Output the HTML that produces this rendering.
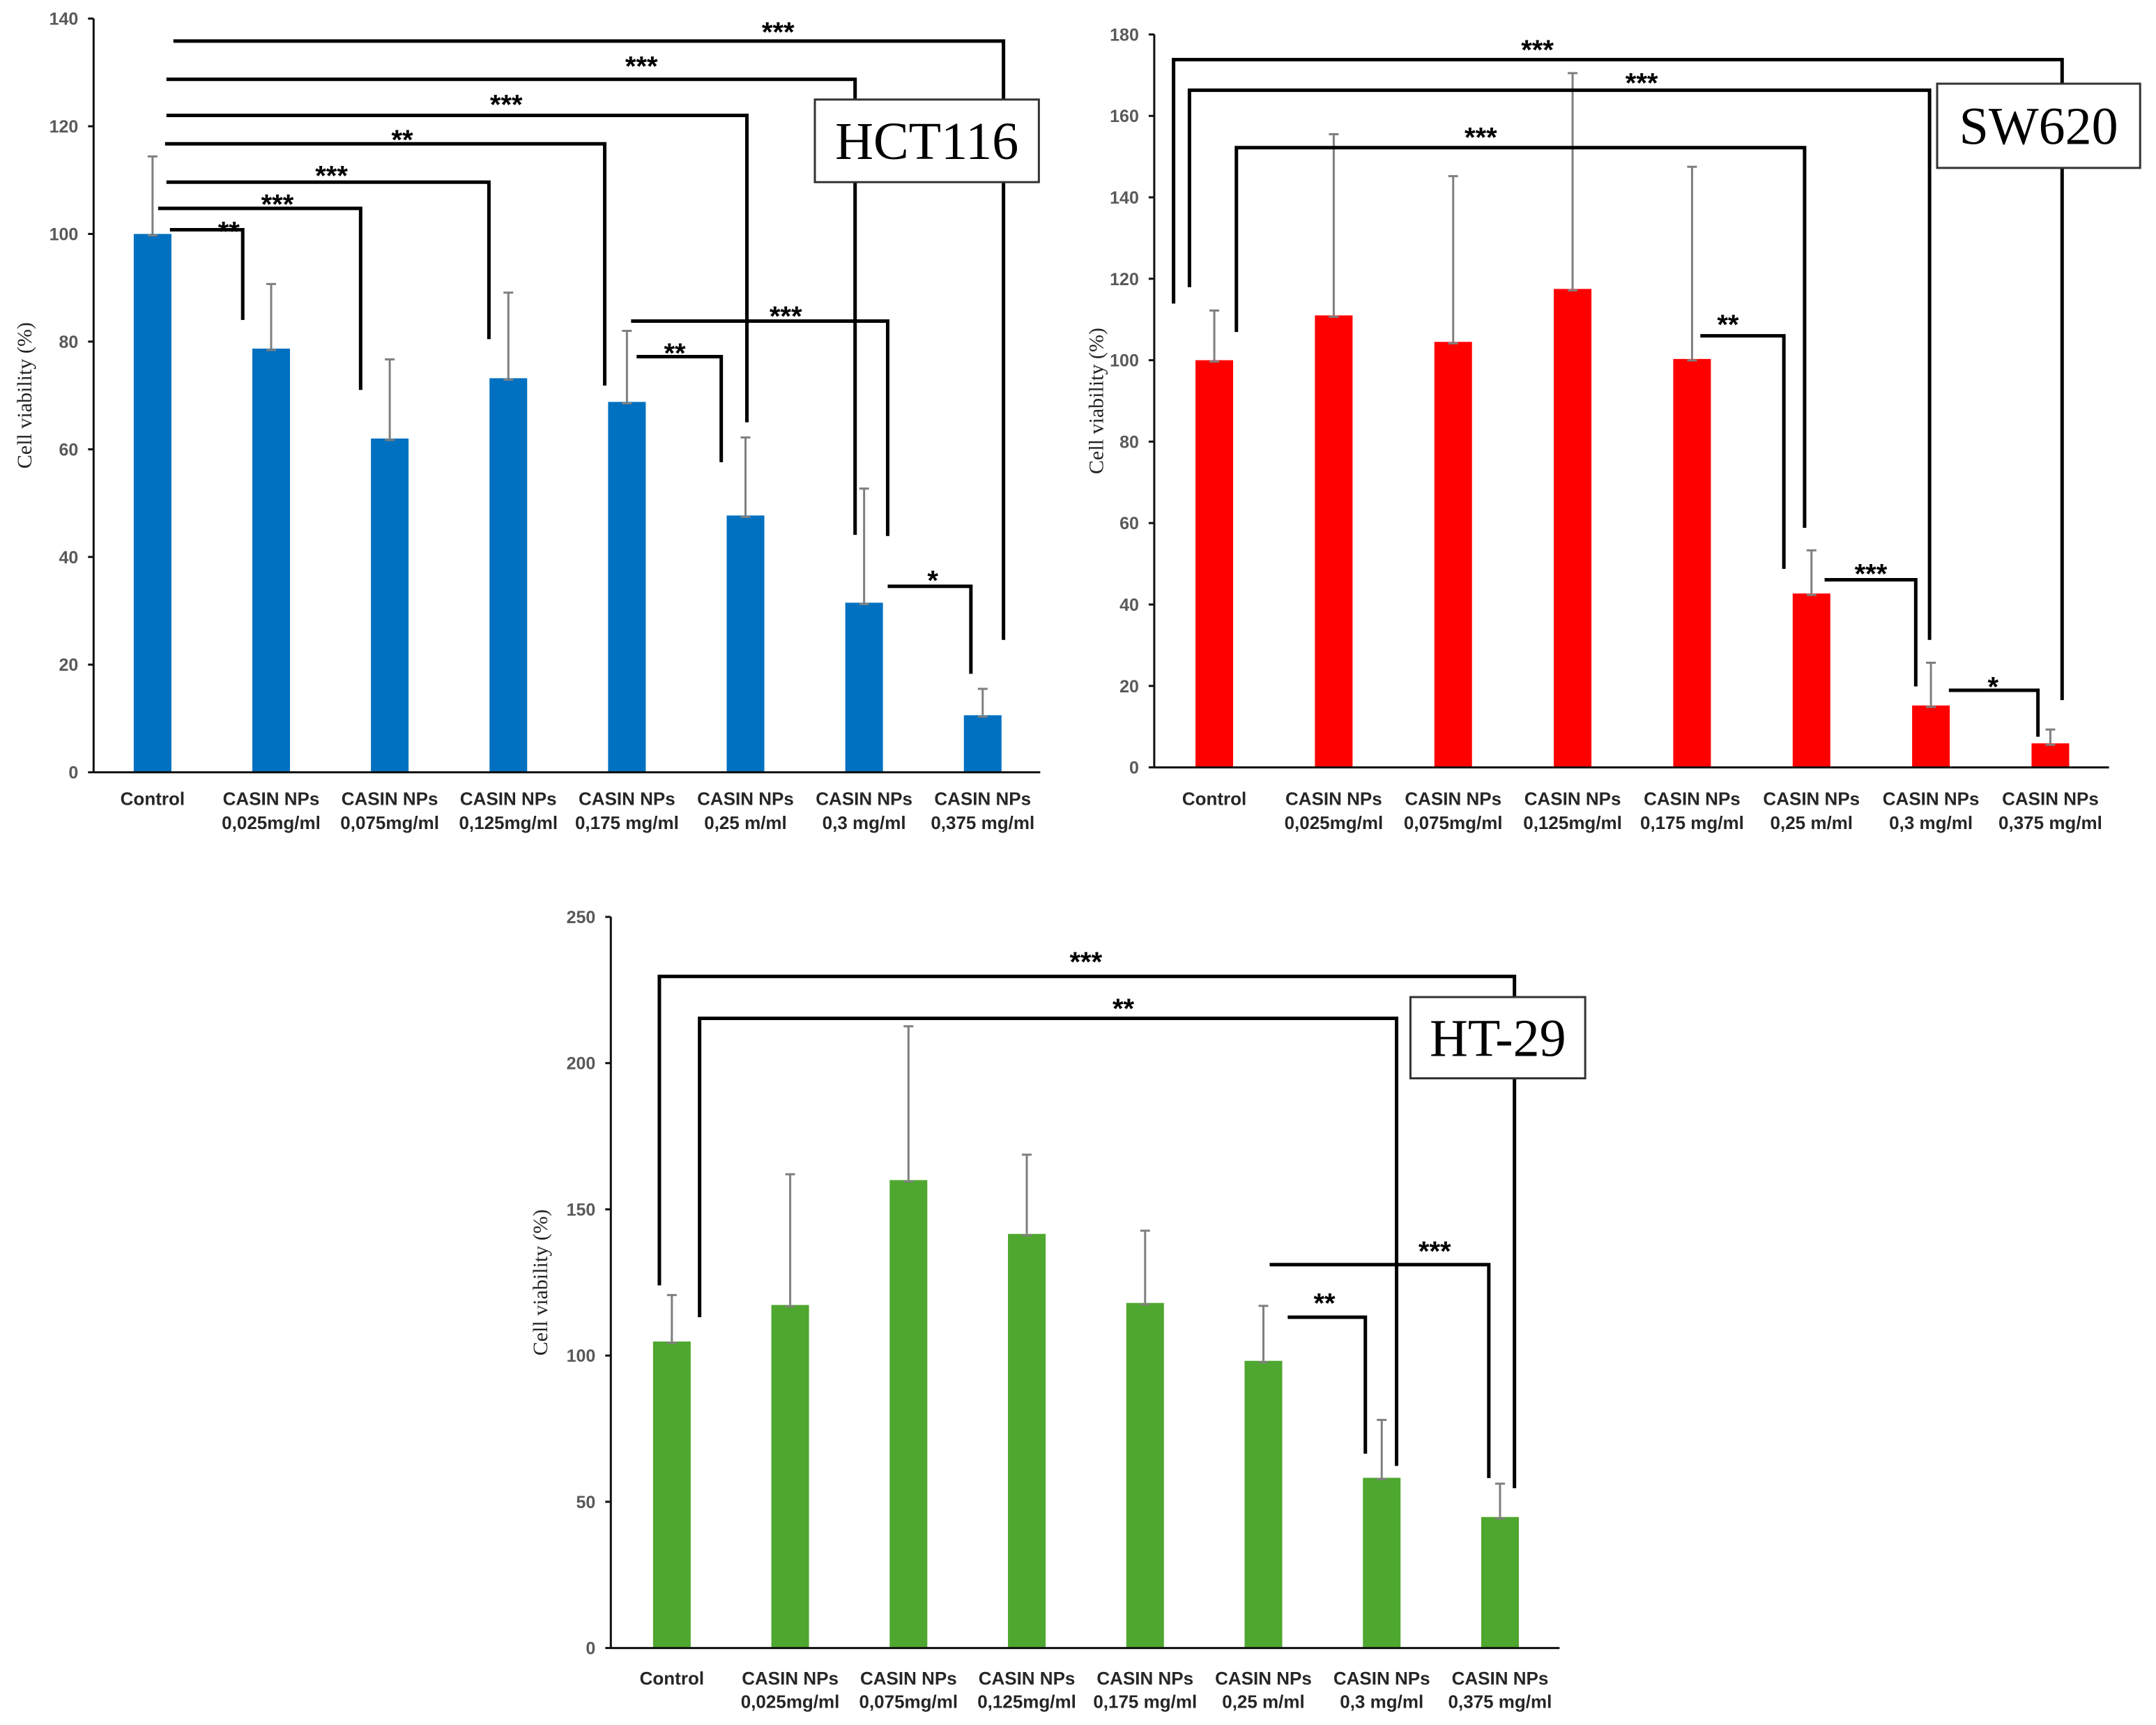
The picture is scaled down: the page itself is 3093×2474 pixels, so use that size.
<!DOCTYPE html>
<html><head><meta charset="utf-8"><style>
html,body{margin:0;padding:0;background:#fff;}
svg{display:block;}
</style></head><body>
<svg id="fig" width="3093" height="2474" viewBox="0 0 3093 2474" xmlns="http://www.w3.org/2000/svg"></svg>
<script>
const categories = ["Control","CASIN NPs|0,025mg/ml","CASIN NPs|0,075mg/ml","CASIN NPs|0,125mg/ml","CASIN NPs|0,175 mg/ml","CASIN NPs|0,25 m/ml","CASIN NPs|0,3 mg/ml","CASIN NPs|0,375 mg/ml"];
const hctValues = [100, 78.7, 62, 73.2, 68.8, 47.7, 31.5, 10.6];
const hctErrTop = [114.4, 90.7, 76.7, 89.1, 82, 62.2, 52.7, 15.5];
const hctTicks = [0,20,40,60,80,100,120,140];
const swValues = [100, 111, 104.5, 117.5, 100.3, 42.7, 15.2, 5.9];
const swErrTop = [112.2, 155.5, 145.2, 170.5, 147.5, 53.3, 25.7, 9.3];
const swTicks = [0,20,40,60,80,100,120,140,160,180];
const htValues = [104.8, 117.3, 160, 141.6, 118, 98.2, 58.2, 44.8];
const htErrTop = [120.7, 162, 212.6, 168.7, 142.7, 117, 78, 56.2];
const htTicks = [0,50,100,150,200,250];

const NS="http://www.w3.org/2000/svg";
const fig=document.getElementById('fig');
function mk(tag,attrs,parent){const e=document.createElementNS(NS,tag);for(const k in attrs)e.setAttribute(k,attrs[k]);(parent||fig).appendChild(e);return e;}

function chart(cfg){
  const g=mk('g',{});
  
  
  const X=zx=>cfg.ox+zx*cfg.sx, Yz=zy=>cfg.oy+zy*cfg.sy;
  const yAx=v=>Yz(cfg.zy0)+(Yz(cfg.zyMax)-Yz(cfg.zy0))*v/cfg.ymax;
  const xAx=i=>X(cfg.zb0+i*cfg.zbStep);
  const axX=X(cfg.zax), axEnd=X(cfg.zaxEnd);
  const ya=mk('line',{x1:axX,y1:yAx(0),x2:axX,y2:yAx(cfg.ymax),stroke:'#111','stroke-width':3},g);
  
  
  cfg.ticks.forEach(t=>{
    const tl=mk('line',{x1:axX-8,y1:yAx(t),x2:axX,y2:yAx(t),stroke:'#111','stroke-width':3},g);
    
    
    const tx=mk('text',{x:axX-22,y:yAx(t)+9,'text-anchor':'end','font-family':'Liberation Sans, sans-serif','font-weight':'bold','font-size':25,fill:'#595959'},g);
    tx.textContent=t;
    
    
  });
  const yt=mk('text',{x:0,y:0,transform:`translate(${X(cfg.zyt)+10},${(yAx(0)+yAx(cfg.ymax))/2}) rotate(-90)`,'text-anchor':'middle','font-family':'Liberation Serif, serif','font-size':30,fill:'#222'},g);
  yt.textContent='Cell viability (%)';
  
  
  cfg.values.forEach((v,i)=>{
    const cx=xAx(i),w=54;
    const r=mk('rect',{x:cx-w/2,y:yAx(v),width:w,height:yAx(0)-yAx(v),fill:cfg.color},g);
    
    
    const el=mk('line',{x1:cx,y1:yAx(v),x2:cx,y2:yAx(cfg.err[i]),stroke:'#7f7f7f','stroke-width':3},g);
    
    
    mk('line',{x1:cx-7,y1:yAx(cfg.err[i]),x2:cx+7,y2:yAx(cfg.err[i]),stroke:'#7f7f7f','stroke-width':3},g);
    mk('line',{x1:cx-7,y1:yAx(v)+2,x2:cx+7,y2:yAx(v)+2,stroke:'#7f7f7f','stroke-width':3},g);
    const parts=categories[i].split('|');
    parts.forEach((p,j)=>{
      const t=mk('text',{x:cx,y:Yz(cfg.zlab)+j*44*cfg.sy,'text-anchor':'middle','font-family':'Liberation Sans, sans-serif','font-weight':'bold','font-size':26,fill:'#262626'},g);
      t.textContent=p;
      
      
    });
  });
  const xa=mk('line',{x1:axX,y1:yAx(0),x2:axEnd,y2:yAx(0),stroke:'#111','stroke-width':3},g);
  
  
  cfg.brackets.forEach(b=>{
    let pts=[];
    if(b[1]!==null) pts.push([X(b[0]),Yz(b[1])]);
    pts.push([X(b[0]),Yz(b[2])],[X(b[3]),Yz(b[2])],[X(b[3]),Yz(b[4])]);
    const pl=mk('polyline',{points:pts.map(p=>p.join(',')).join(' '),fill:'none',stroke:'#000','stroke-width':5},g);
    
    
    const s=mk('text',{x:X(b[6]),y:Yz(b[7])+24,'text-anchor':'middle','font-family':'Liberation Sans, sans-serif','font-weight':'bold','font-size':40,fill:'#000'},g);
    s.textContent=b[5];
    
    
  });
  const bx=cfg.box;
  const rb=mk('rect',{x:X(bx[0]),y:Yz(bx[1]),width:X(bx[2])-X(bx[0]),height:Yz(bx[3])-Yz(bx[1]),fill:'#fff',stroke:'#333','stroke-width':3},g);
  
  
  const tt=mk('text',{x:(X(bx[0])+X(bx[2]))/2,y:(Yz(bx[1])+Yz(bx[3]))/2+26,'text-anchor':'middle','font-family':'Liberation Serif, serif','font-size':76,fill:'#000'},g);
  tt.textContent=cfg.title;
  
  
}

chart({name:'hct116-chart',title:'HCT116',ox:0,oy:0,sx:1560/1568,sy:1230/1568,zax:135,zaxEnd:1500,zy0:1412,zyMax:34,ymax:140,
  zb0:220,zbStep:171,values:hctValues,err:hctErrTop,ticks:hctTicks,color:'#0070c0',zyt:35,zlab:1472,
  box:[1175,182,1498,333],
  brackets:[[250,null,75,1447,1170,'***',1122,45],[240,null,145,1233,978,'***',925,108],[240,null,211,1077,772,'***',730,178],
    [238,null,263,872,705,'**',580,242],[240,null,333,705,620,'***',478,308],[228,null,381,520,713,'***',400,360],
    [245,null,420,350,585,'**',330,410],[910,null,587,1280,980,'***',1133,565],[918,null,652,1040,845,'**',973,632],
    [1280,null,1072,1400,1232,'*',1345,1048]]});
chart({name:'sw620-chart',title:'SW620',ox:1540,oy:0,sx:1553/1568,sy:1230/1568,zax:117,zaxEnd:1500,zy0:1403,zyMax:63,ymax:180,
  zb0:204,zbStep:173,values:swValues,err:swErrTop,ticks:swTicks,color:'#ff0000',zyt:33,zlab:1472,
  box:[1251,153,1545,307],
  brackets:[[145,555,109,1432,1280,'***',672,78],[168,525,165,1240,1170,'***',823,138],[236,607,270,1059,965,'***',590,238],
    [908,null,614,1029,1040,'**',948,580],[1088,null,1060,1220,1255,'***',1155,1036],[1268,null,1262,1397,1347,'*',1332,1242]]});
chart({name:'ht29-chart',title:'HT-29',ox:740,oy:1280,sx:1560/1568,sy:1194/1568,zax:137,zaxEnd:1505,zy0:1423,zyMax:46,ymax:250,
  zb0:225,zbStep:170.6,values:htValues,err:htErrTop,ticks:htTicks,color:'#4ea72e',zyt:35,zlab:1492,
  box:[1290,197,1542,350],
  brackets:[[207,740,158,1440,1122,'***',822,117],[265,800,237,1270,1080,'**',876,205],
    [1087,null,701,1403,1103,'***',1325,662],[1113,null,800,1225,1057,'**',1166,760]]});
</script>
</body></html>
